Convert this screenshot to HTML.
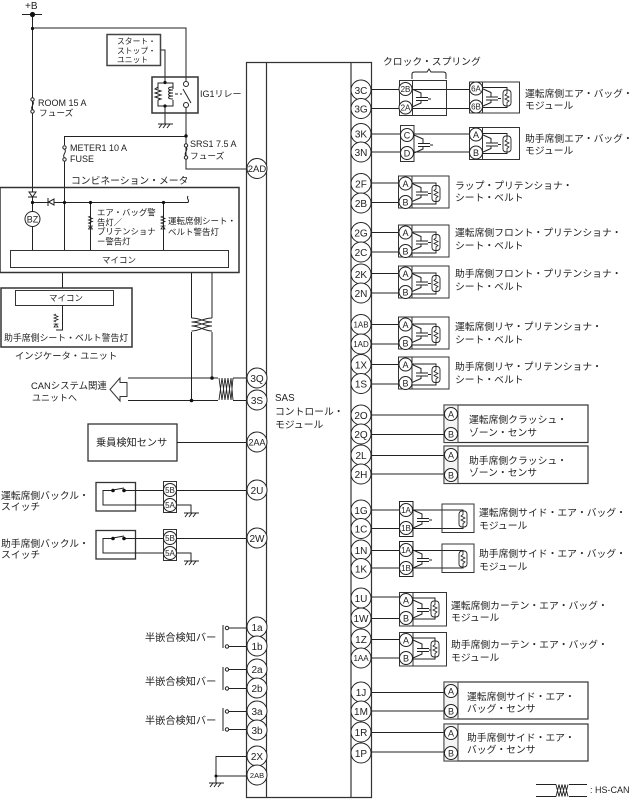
<!DOCTYPE html>
<html><head><meta charset="utf-8"><style>
html,body{margin:0;padding:0;background:#fff}
svg{display:block}
text{font-family:"Liberation Sans","Noto Sans CJK JP",sans-serif;font-size:9.8px;fill:#222}
.l{font-size:9px}
.n{font-size:10px;text-anchor:middle}
.s{font-size:8px;text-anchor:middle}
.a{font-size:9px;text-anchor:middle}
</style></head><body>
<svg width="638" height="799" viewBox="0 0 638 799" xmlns="http://www.w3.org/2000/svg">
<defs>
<g id="sq" fill="none" stroke="#222" stroke-width="1"><path d="M0 0L9 4V8M4 8.500H16M4 11.500H16M9 12V14L0 18M16 10H19"/></g>
<g id="coil"><rect x="-4" y="-8" width="8" height="16" rx="3" fill="#fff" stroke="#222" stroke-width=".9"/><path d="M0 -8V-4.500L-2 -3L2 -1L-2 1L2 3L0 4.500V8" fill="none" stroke="#222" stroke-width=".8"/></g>
<g id="gnd" fill="none" stroke="#222"><path d="M-7 0H8M-6 4L-3 0M-2 4L1 0M2 4L5 0"/></g>
<g id="fuse" fill="none" stroke="#222"><circle cx="0" cy="1.500" r="1.700" fill="#fff"/><path d="M0 3C3 6 -3 9 0 12"/><circle cx="0" cy="13.500" r="1.700" fill="#fff"/></g>
<g id="lamp" fill="none" stroke="#222" stroke-width=".8"><path d="M0 -8L-2 -7L2 -5.500L-2 -4L2 -2.500L-2 -1L0 0M-2 5H2L0 2ZM-2.500 2H2.500"/></g>
</defs>

<!-- SAS body -->
<path d="M246.500 797.500V62.500H371.500V797.500ZM266.500 62.500V797M351 62.500V797" fill="none" stroke="#333" stroke-width="1.200"/>
<text x="275" y="401">SAS</text><text x="275" y="415">コントロール・</text><text x="275" y="428">モジュール</text>

<!-- +B and top wiring -->
<g fill="none" stroke="#222">
<path d="M22 14.500H42M32.500 14V192M32.500 197V202M32.500 28H186V81M186 108V169H247"/>
<path d="M161 50H165V82M165 106V124"/>
<path d="M64.500 136.500H186M64.500 136V145M64.500 160V250"/>
<path d="M32.500 202.500H188C190 199 186 200 188 196"/>
<path d="M32.500 202V212M32.500 226V250M90.500 202V250M163.500 202V250"/>
<path d="M62.500 272V288M191.500 272V318M212 272V318M191.500 332V401M212 332V378M128 378H218M233 378H246M128 400.500H218M233 400.500H246"/>
</g>
<text x="25" y="9" style="font-size:10px">+B</text>
<circle cx="32.500" cy="14.500" r="2.600" fill="#111"/><circle cx="32.500" cy="28.500" r="1.600" fill="#111"/>

<!-- start-stop -->
<rect x="107" y="34.500" width="53.500" height="31" fill="#fff" stroke="#444" stroke-width="1.500"/>
<text x="117" y="44" style="font-size:7.800px">スタート・</text><text x="117" y="53.500" style="font-size:7.800px">ストップ・</text><text x="117" y="62.500" style="font-size:7.800px">ユニット</text>

<!-- relay -->
<rect x="152" y="77" width="46" height="36" fill="none" stroke="#333" stroke-width="1.500"/>
<g fill="none" stroke="#222">
<path d="M158 89V83H173V89M158 100V106H173V100"/>
<path d="M158 87L155 89L161 91L155 93L161 95L155 97L161 99L158 100"/>
<path d="M173 87C167 87 167 90 173 90C167 90 167 93 173 93C167 93 167 96 173 96C167 96 167 99 173 99"/>
<path d="M175 94H182" stroke-dasharray="3 2"/>
<path d="M183 89L191 103"/>
<circle cx="186" cy="84" r="2.500" fill="#fff"/><circle cx="186" cy="105" r="2.500" fill="#fff"/>
</g>
<circle cx="165" cy="82.500" r="1.600" fill="#111"/><circle cx="165" cy="106" r="1.600" fill="#111"/>
<use href="#gnd" x="165" y="124"/>
<text x="200" y="97" style="font-size:9px">IG1リレー</text>

<!-- fuses -->
<use href="#fuse" x="32.500" y="98"/><use href="#fuse" x="64.500" y="146"/><use href="#fuse" x="186" y="144"/>
<circle cx="186" cy="136" r="1.700" fill="#111"/>
<text x="38" y="106" class="l">ROOM 15 A</text><text x="39" y="116" style="font-size:8.700px">フューズ</text>
<text x="70" y="151" class="l">METER1 10 A</text><text x="70" y="162" class="l">FUSE</text>
<text x="190" y="147" class="l">SRS1 7.5 A</text><text x="190" y="159" style="font-size:8.700px">フューズ</text>

<!-- meter -->
<text x="71" y="184">コンビネーション・メータ</text>
<rect x="0" y="187.500" width="239" height="85" fill="none" stroke="#333" stroke-width="1.500"/>
<polygon points="29,192 36,192 32.500,197" fill="#fff" stroke="#222"/><line x1="28" y1="197" x2="37" y2="197" stroke="#222"/>
<polygon points="54,199 54,205 48.500,202" fill="#fff" stroke="#222"/><line x1="48" y1="198" x2="48" y2="206" stroke="#222"/>
<circle cx="32.500" cy="202.500" r="1.600" fill="#111"/><circle cx="64.500" cy="202.500" r="1.600" fill="#111"/><circle cx="90.500" cy="202.500" r="1.600" fill="#111"/><circle cx="163.500" cy="202.500" r="1.600" fill="#111"/>
<circle cx="32.500" cy="219" r="7.500" fill="#fff" stroke="#222"/>
<text x="32.500" y="222.500" class="a">BZ</text>
<use href="#lamp" x="90.500" y="224"/><use href="#lamp" x="163" y="224"/>
<text x="97" y="215.500" style="font-size:8.400px">エア・バッグ警</text><text x="97" y="225.500" style="font-size:8.400px">告灯／</text><text x="97" y="234.500" style="font-size:8.400px">プリテンショナ</text><text x="97" y="244.500" style="font-size:8.400px">ー警告灯</text>
<text x="168" y="224" style="font-size:8.500px">運転席側シート・</text><text x="168" y="235" style="font-size:8.500px">ベルト警告灯</text>
<rect x="10.500" y="250.500" width="218" height="17" fill="#fff" stroke="#333"/>
<text x="102" y="263" style="font-size:8.500px">マイコン</text>

<!-- indicator unit -->
<rect x="1" y="288" width="131" height="59" fill="none" stroke="#333" stroke-width="1.500"/>
<rect x="15.500" y="290.500" width="98" height="15" fill="#fff" stroke="#333"/>
<text x="49" y="301" style="font-size:8.500px">マイコン</text>
<path d="M62.500 305V330H56" fill="none" stroke="#222"/>
<use href="#lamp" x="56" y="322"/>
<text x="4" y="341" style="font-size:8.900px">助手席側シート・ベルト警告灯</text>
<text x="15" y="359" style="font-size:9.300px">インジケータ・ユニット</text>

<!-- CAN -->
<path d="M191.500 318C200 318 204 322 212 322C204 322 200 326 191.500 326C200 326 204 331 212 331M212 318C204 318 200 322 191.500 322C200 322 204 326 212 326C204 326 200 331 191.500 331" fill="none" stroke="#222"/>
<path d="M219 378L222 400L225 378L228 400L231 378L233 400M219 400L222 378L225 400L228 378L231 400L233 378" fill="none" stroke="#222" stroke-width=".9"/>
<circle cx="212" cy="378" r="1.800" fill="#111"/><circle cx="191.500" cy="400.500" r="1.800" fill="#111"/>
<polygon points="120,378 110,389.500 120,401 120,396.500 127,396.500 127,382.500 120,382.500" fill="#fff" stroke="#333"/>
<text x="31" y="389" style="font-size:9.400px">CANシステム関連</text><text x="32" y="401" style="font-size:9px">ユニットへ</text>

<!-- Occupant sensor -->
<rect x="88" y="424" width="89" height="37" fill="none" stroke="#333" stroke-width="1.300"/>
<text x="96" y="446" style="font-size:10.200px">乗員検知センサ</text>
<path d="M177 442.500H247" stroke="#222"/>

<!-- buckles -->
<text x="1" y="499">運転席側バックル・</text><text x="1" y="510">スイッチ</text>
<rect x="96" y="482.500" width="39.500" height="28.500" fill="none" stroke="#333" stroke-width="1.300"/>
<path d="M113 490.500H103V505H163M124 490.500H163M113 490L124 488" fill="none" stroke="#222"/>
<circle cx="113" cy="490.500" r="1.800" fill="#111"/><circle cx="124" cy="490.500" r="1.800" fill="#111"/>
<rect x="163.500" y="481.500" width="13" height="31" fill="#fff" stroke="#333"/>
<circle cx="170" cy="490" r="6.500" fill="#fff" stroke="#222"/><text x="170" y="493" class="s">5B</text>
<circle cx="170" cy="505" r="6.500" fill="#fff" stroke="#222"/><text x="170" y="508" class="s">5A</text>
<path d="M176 490.500H247M176 505H191V513" fill="none" stroke="#222"/><use href="#gnd" x="191" y="513"/>

<text x="1" y="547">助手席側バックル・</text><text x="1" y="558">スイッチ</text>
<rect x="96" y="530.500" width="39.500" height="28.500" fill="none" stroke="#333" stroke-width="1.300"/>
<path d="M113 538.500H103V553H163M124 538.500H163M113 538L124 536" fill="none" stroke="#222"/>
<circle cx="113" cy="538.500" r="1.800" fill="#111"/><circle cx="124" cy="538.500" r="1.800" fill="#111"/>
<rect x="163.500" y="529.500" width="13" height="31" fill="#fff" stroke="#333"/>
<circle cx="170" cy="538" r="6.500" fill="#fff" stroke="#222"/><text x="170" y="541" class="s">5B</text>
<circle cx="170" cy="553" r="6.500" fill="#fff" stroke="#222"/><text x="170" y="556" class="s">5A</text>
<path d="M176 538.500H247M176 553H191V561" fill="none" stroke="#222"/><use href="#gnd" x="191" y="561"/>

<!-- half-fit bars -->
<g fill="none" stroke="#222">
<path d="M223 625V648M229 628H247M229 646.500H247"/><circle cx="227" cy="628" r="1.700"/><circle cx="227" cy="646.500" r="1.700"/>
<path d="M223 667V690M229 669.500H247M229 688.500H247"/><circle cx="227" cy="669.500" r="1.700"/><circle cx="227" cy="688.500" r="1.700"/>
<path d="M223 708V731M229 711.500H247M229 729.500H247"/><circle cx="227" cy="711.500" r="1.700"/><circle cx="227" cy="729.500" r="1.700"/>
<path d="M247 756.500H216V783M216 776H247"/>
</g>
<circle cx="216" cy="776" r="1.500" fill="#111"/><use href="#gnd" x="216" y="783"/>
<text x="145" y="641" style="font-size:10.200px">半嵌合検知バー</text><text x="145" y="685" style="font-size:10.200px">半嵌合検知バー</text><text x="145" y="724" style="font-size:10.200px">半嵌合検知バー</text>

<!-- Right side wires -->
<g fill="none" stroke="#222">
<path d="M371 89.500H469M371 108.500H469M371 134H469M371 152H469"/>
<path d="M371 183H398M371 202.500H398M371 232.500H398M371 252H398M371 273.500H398M371 293H398M371 324.500H398M371 344H398M371 364.500H398M371 384H398"/>
<path d="M371 415H444M371 434.500H444M371 455.500H444M371 474H444"/>
<path d="M371 510H399M413 510H463V511M371 528.500H399M413 528.500H463V527"/>
<path d="M371 550.500H399M413 550.500H463V551M371 568H399M413 568H463V567"/>
<path d="M371 597H399M371 618.500H399M371 639.500H399M371 658H399"/>
<path d="M371 692.500H444M371 711H444M371 732.500H444M371 752H444"/>
</g>

<!-- clock spring -->
<text x="383" y="65">クロック・スプリング</text>
<path d="M412 79V74Q412 72 415 72H427L429 69L431 72H443Q446 72 446 74V79" fill="none" stroke="#222"/>
<rect x="399.500" y="80.500" width="47" height="35" fill="none" stroke="#333"/>
<rect x="399.500" y="80.500" width="13" height="35" fill="#fff" stroke="#333"/>
<circle cx="405.500" cy="89" r="6.500" fill="#fff" stroke="#222"/><text x="405.500" y="92" class="s">2B</text>
<circle cx="405.500" cy="107.500" r="6.500" fill="#fff" stroke="#222"/><text x="405.500" y="110.500" class="s">2A</text>
<use href="#sq" x="412" y="89"/>

<!-- driver airbag -->
<rect x="469.500" y="82" width="50" height="31" fill="none" stroke="#333"/>
<rect x="469.500" y="82" width="13" height="31" fill="#fff" stroke="#333"/>
<circle cx="476" cy="88.500" r="6.500" fill="#fff" stroke="#222"/><text x="476" y="91.500" class="s">6A</text>
<circle cx="476" cy="106.500" r="6.500" fill="#fff" stroke="#222"/><text x="476" y="109.500" class="s">6B</text>
<use href="#sq" x="482" y="88.500"/>
<path d="M482 87.500H507V91M482 107.500H507V104" fill="none" stroke="#222"/><use href="#coil" x="507" y="98"/>
<text x="525" y="97">運転席側エア・バッグ・</text><text x="525" y="109">モジュール</text>

<!-- C/D -->
<rect x="400.500" y="125.500" width="13.500" height="36" fill="#fff" stroke="#333"/>
<circle cx="407" cy="135" r="6.500" fill="#fff" stroke="#222"/><text x="407" y="138.500" class="a">C</text>
<circle cx="407" cy="153" r="6.500" fill="#fff" stroke="#222"/><text x="407" y="156.500" class="a">D</text>
<use href="#sq" x="414" y="135"/>

<!-- passenger airbag -->
<rect x="469.500" y="127.500" width="50" height="32" fill="none" stroke="#333"/>
<rect x="469.500" y="127.500" width="13" height="32" fill="#fff" stroke="#333"/>
<circle cx="476" cy="134.500" r="6.500" fill="#fff" stroke="#222"/><text x="476" y="138" class="a">A</text>
<circle cx="476" cy="152.500" r="6.500" fill="#fff" stroke="#222"/><text x="476" y="156" class="a">B</text>
<use href="#sq" x="482" y="134.500"/>
<path d="M482 133.500H507V137M482 153.500H507V150" fill="none" stroke="#222"/><use href="#coil" x="507" y="144"/>
<text x="525" y="142">助手席側エア・バッグ・</text><text x="525" y="154">モジュール</text>

<!-- pretensioners -->
<g id="p1">
<rect x="398.500" y="176" width="50.500" height="32" fill="none" stroke="#333"/><rect x="398.500" y="176" width="13.500" height="32" fill="#fff" stroke="#333"/>
<circle cx="405.500" cy="183.500" r="6.500" fill="#fff" stroke="#222"/><text x="405.500" y="187" class="a">A</text>
<circle cx="405.500" cy="202" r="6.500" fill="#fff" stroke="#222"/><text x="405.500" y="205.500" class="a">B</text>
<use href="#sq" x="412" y="183.500"/>
<path d="M412 183H436V186M412 204H436V201" fill="none" stroke="#222"/><use href="#coil" x="436" y="193.500"/>
</g>
<text x="455" y="189">ラップ・プリテンショナ・</text><text x="455" y="201">シート・ベルト</text>

<use href="#p1" y="49"/>
<text x="455" y="236">運転席側フロント・プリテンショナ・</text><text x="455" y="249">シート・ベルト</text>
<use href="#p1" y="90"/>
<text x="455" y="277">助手席側フロント・プリテンショナ・</text><text x="455" y="290">シート・ベルト</text>
<use href="#p1" y="141"/>
<text x="455" y="330">運転席側リヤ・プリテンショナ・</text><text x="455" y="343">シート・ベルト</text>
<use href="#p1" y="181"/>
<text x="455" y="370">助手席側リヤ・プリテンショナ・</text><text x="455" y="383">シート・ベルト</text>

<!-- crash sensors -->
<g id="cs">
<rect x="444" y="405" width="144" height="37.500" fill="none" stroke="#333" stroke-width="1.200"/><rect x="444" y="405" width="14" height="37.500" fill="#f4f4f4" stroke="#444" stroke-width="1"/>
<circle cx="451" cy="414" r="6.500" fill="#fff" stroke="#222"/><text x="451" y="417.500" class="a">A</text>
<circle cx="451" cy="434" r="6.500" fill="#fff" stroke="#222"/><text x="451" y="437.500" class="a">B</text>
</g>
<text x="469" y="423">運転席側クラッシュ・</text><text x="469" y="436">ゾーン・センサ</text>
<use href="#cs" y="41"/>
<text x="469" y="464">助手席側クラッシュ・</text><text x="469" y="476">ゾーン・センサ</text>

<!-- side airbag -->
<rect x="442" y="504" width="32" height="28.500" fill="none" stroke="#333"/>
<rect x="399.500" y="501.500" width="13.500" height="35" fill="#fff" stroke="#222"/>
<circle cx="406" cy="510" r="6.500" fill="#fff" stroke="#222"/><text x="406" y="513" class="s">1A</text>
<circle cx="406" cy="528" r="6.500" fill="#fff" stroke="#222"/><text x="406" y="531" class="s">1B</text>
<use href="#sq" x="413" y="510"/><use href="#coil" x="463" y="519"/>
<text x="479" y="516">運転席側サイド・エア・バッグ・</text><text x="479" y="529">モジュール</text>

<rect x="442" y="544" width="32" height="28.500" fill="none" stroke="#333"/>
<rect x="399.500" y="541.500" width="13.500" height="35" fill="#fff" stroke="#222"/>
<circle cx="406" cy="550" r="6.500" fill="#fff" stroke="#222"/><text x="406" y="553" class="s">1A</text>
<circle cx="406" cy="568" r="6.500" fill="#fff" stroke="#222"/><text x="406" y="571" class="s">1B</text>
<use href="#sq" x="413" y="550"/><use href="#coil" x="463" y="559"/>
<text x="479" y="557">助手席側サイド・エア・バッグ・</text><text x="479" y="570">モジュール</text>

<!-- curtain -->
<g id="cu">
<rect x="399.500" y="592.500" width="47" height="33.500" fill="none" stroke="#333"/><rect x="399.500" y="592.500" width="13.500" height="33.500" fill="#fff" stroke="#333"/>
<circle cx="406" cy="600" r="6.500" fill="#fff" stroke="#222"/><text x="406" y="603.500" class="a">A</text>
<circle cx="406" cy="618" r="6.500" fill="#fff" stroke="#222"/><text x="406" y="621.500" class="a">B</text>
<use href="#sq" x="413" y="600"/>
<path d="M413 598H435V602M413 619H435V616" fill="none" stroke="#222"/><use href="#coil" x="435" y="609"/>
</g>
<text x="451" y="609">運転席側カーテン・エア・バッグ・</text><text x="451" y="621">モジュール</text>
<use href="#cu" y="40"/>
<text x="451" y="648">助手席側カーテン・エア・バッグ・</text><text x="451" y="661">モジュール</text>

<!-- side sensors -->
<g id="ss">
<rect x="444" y="682" width="144" height="37" fill="none" stroke="#333" stroke-width="1.200"/><rect x="444" y="682" width="14" height="37" fill="#f4f4f4" stroke="#444" stroke-width="1"/>
<circle cx="451" cy="691" r="6.500" fill="#fff" stroke="#222"/><text x="451" y="694.500" class="a">A</text>
<circle cx="451" cy="711" r="6.500" fill="#fff" stroke="#222"/><text x="451" y="714.500" class="a">B</text>
</g>
<text x="467" y="700">運転席側サイド・エア・</text><text x="467" y="712">バッグ・センサ</text>
<use href="#ss" y="42"/>
<text x="467" y="741">助手席側サイド・エア・</text><text x="467" y="753">バッグ・センサ</text>

<!-- legend -->
<path d="M536 784.500H556M569 784.500H587M536 796.500H556M569 796.500H587M556 784.500L559 796.500L562 784.500L565 796.500L568 784.500M556 796.500L559 784.500L562 796.500L565 784.500L568 796.500" fill="none" stroke="#222" stroke-width=".9"/>
<text x="590" y="793" class="l">: HS-CAN</text>

<!-- connector circles: left -->
<g fill="#fff" stroke="#222">
<circle cx="257" cy="168.500" r="10"/><circle cx="257" cy="378" r="10"/><circle cx="257" cy="400" r="10"/><circle cx="257" cy="442" r="10"/><circle cx="257" cy="490" r="10"/><circle cx="257" cy="538" r="10"/>
<circle cx="257" cy="627" r="10"/><circle cx="257" cy="646" r="10"/><circle cx="257" cy="669" r="10"/><circle cx="257" cy="688" r="10"/><circle cx="257" cy="711" r="10"/><circle cx="257" cy="730" r="10"/><circle cx="257" cy="756" r="10"/><circle cx="257" cy="775" r="10"/>
<!-- right -->
<circle cx="361" cy="90" r="10"/><circle cx="361" cy="108.500" r="10"/><circle cx="361" cy="133.500" r="10"/><circle cx="361" cy="152" r="10"/><circle cx="361" cy="183.500" r="10"/><circle cx="361" cy="203" r="10"/><circle cx="361" cy="232.500" r="10"/><circle cx="361" cy="252" r="10"/><circle cx="361" cy="274" r="10"/><circle cx="361" cy="293" r="10"/><circle cx="361" cy="324.500" r="10"/><circle cx="361" cy="344" r="10"/><circle cx="361" cy="364.500" r="10"/><circle cx="361" cy="383.500" r="10"/>
<circle cx="361" cy="415" r="10"/><circle cx="361" cy="434" r="10"/><circle cx="361" cy="455" r="10"/><circle cx="361" cy="474" r="10"/><circle cx="361" cy="510" r="10"/><circle cx="361" cy="528.500" r="10"/><circle cx="361" cy="550" r="10"/><circle cx="361" cy="568.500" r="10"/>
<circle cx="361" cy="598" r="10"/><circle cx="361" cy="618" r="10"/><circle cx="361" cy="639" r="10"/><circle cx="361" cy="658" r="10"/><circle cx="361" cy="692" r="10"/><circle cx="361" cy="711" r="10"/><circle cx="361" cy="732" r="10"/><circle cx="361" cy="753" r="10"/>
</g>
<text x="257" y="172" class="n" style="font-size:9.500px">2AD</text><text x="257" y="382" class="n">3Q</text><text x="257" y="404" class="n">3S</text><text x="257" y="445.500" class="n" style="font-size:9px">2AA</text><text x="257" y="494" class="n">2U</text><text x="257" y="542" class="n">2W</text>
<text x="257" y="631" class="n">1a</text><text x="257" y="650" class="n">1b</text><text x="257" y="673" class="n">2a</text><text x="257" y="692" class="n">2b</text><text x="257" y="715" class="n">3a</text><text x="257" y="734" class="n">3b</text><text x="257" y="760" class="n">2X</text><text x="257" y="778" class="n" style="font-size:7.500px">2AB</text>
<text x="361" y="94" class="n">3C</text><text x="361" y="112.500" class="n">3G</text><text x="361" y="137.500" class="n">3K</text><text x="361" y="156" class="n">3N</text><text x="361" y="187.500" class="n">2F</text><text x="361" y="207" class="n">2B</text><text x="361" y="236.500" class="n">2G</text><text x="361" y="256" class="n">2C</text><text x="361" y="278" class="n">2K</text><text x="361" y="297" class="n">2N</text><text x="361" y="327.500" class="n" style="font-size:8px">1AB</text><text x="361" y="347" class="n" style="font-size:8px">1AD</text><text x="361" y="368.500" class="n">1X</text><text x="361" y="387.500" class="n">1S</text>
<text x="361" y="419" class="n">2O</text><text x="361" y="438" class="n">2Q</text><text x="361" y="459" class="n">2L</text><text x="361" y="478" class="n">2H</text><text x="361" y="514" class="n">1G</text><text x="361" y="532.500" class="n">1C</text><text x="361" y="554" class="n">1N</text><text x="361" y="572.500" class="n">1K</text>
<text x="361" y="602" class="n">1U</text><text x="361" y="622" class="n">1W</text><text x="361" y="643" class="n">1Z</text><text x="361" y="661" class="n" style="font-size:8px">1AA</text><text x="361" y="696" class="n">1J</text><text x="361" y="715" class="n">1M</text><text x="361" y="736" class="n">1R</text><text x="361" y="757" class="n">1P</text>
</svg>
</body></html>
